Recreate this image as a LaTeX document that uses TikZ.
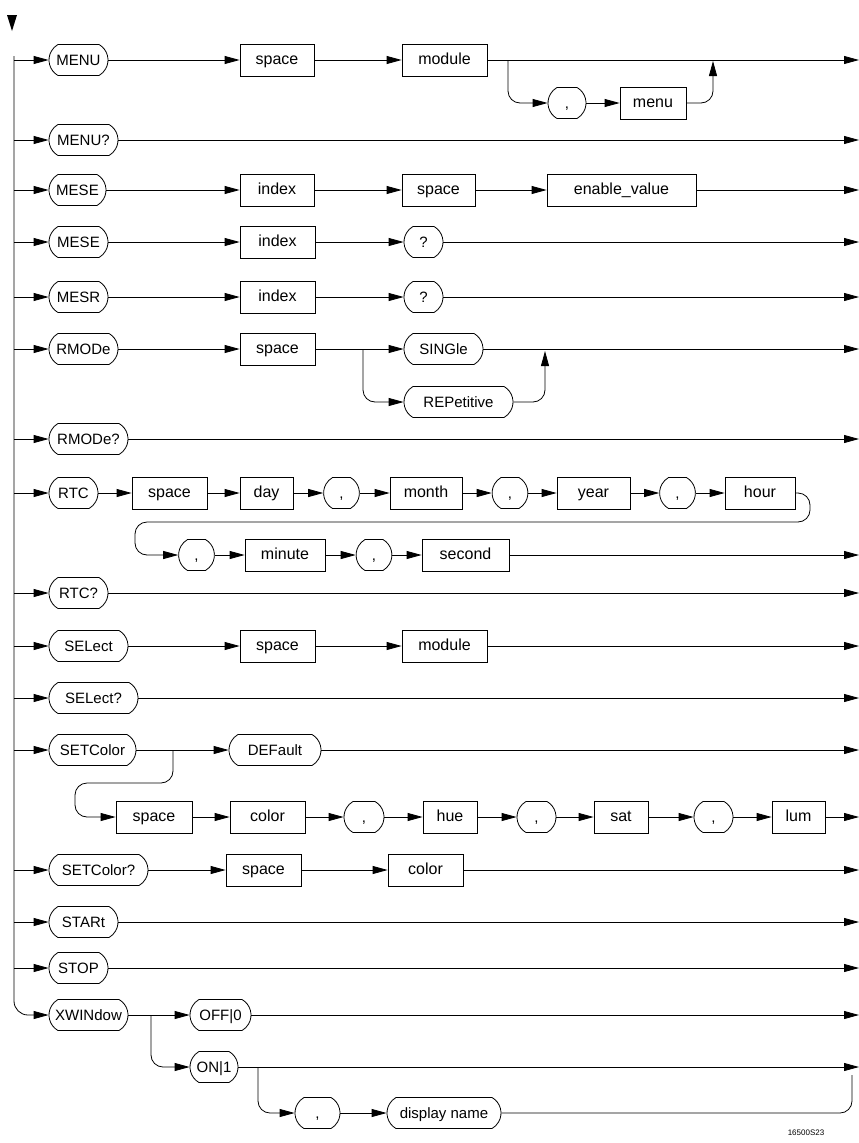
\documentclass[tikz,border=0pt]{standalone}
\usepackage{fontspec}
\setmainfont{Liberation Sans}
\usetikzlibrary{arrows.meta,shapes.misc}

\tikzset{every picture/.style={line width=0.8pt}}
\tikzset{
  kw/.style={draw,rounded rectangle,rounded rectangle arc length=120,minimum height=31,inner xsep=2pt,text height=10pt,text depth=0pt,font=\fontsize{15}{18}\selectfont},
  prm/.style={draw,rectangle,minimum height=32,inner xsep=3pt,text height=9pt,text depth=0pt,font=\fontsize{16}{19}\selectfont},
  figno/.style={font=\fontsize{8}{10}\selectfont}
}

\begin{document}
\begin{tikzpicture}[x=1pt,y=1pt,yscale=-1,xscale=1,>={Triangle[length=15pt,width=8pt]}]
		\useasboundingbox (0,0) rectangle (859,1143);
		\coordinate (spine) at (14,0);
		\coordinate (exit) at (859,0);
		
		%Start mark
		\fill (7,15) -- (17,15) -- (12,31) -- cycle;
		
		% MENU
		\draw (78.5,60) node [kw,minimum width=63] (menu) {MENU};
		\draw (277,60) node [prm,minimum width=74] (menusp) {space};
		\draw (444.5,60) node [prm,minimum width=85] (menumod) {module};
		\draw (567,103) node [kw,minimum width=42] (menucm) {,};
		\draw (653,103) node [prm,minimum width=66] (menumenu) {menu};
		\coordinate (menub) at (508,60);
		\coordinate (menuj) at (713,61);
		% MENU?
		\draw (83.5,140) node [kw,minimum width=73] (menuq) {MENU?};
		% MESE
		\draw (77.5,190) node [kw,minimum width=61] (mese) {MESE};
		\draw (277,190) node [prm,minimum width=74] (meseidx) {index};
		\draw (438.5,190) node [prm,minimum width=73] (mesesp) {space};
		\draw (621.5,190) node [prm,minimum width=149] (meseval) {enable\_value};
		% MESE query
		\draw (78.5,242) node [kw,minimum width=63] (meseb) {MESE};
		\draw (277.5,242) node [prm,minimum width=75] (mesebidx) {index};
		\draw (423.5,242) node [kw,minimum width=43] (mesebq) {?};
		% MESR
		\draw (78.5,297) node [kw,minimum width=63] (mesr) {MESR};
		\draw (277.5,297) node [prm,minimum width=75] (mesridx) {index};
		\draw (423.5,297) node [kw,minimum width=43] (mesrq) {?};
		% RMODe
		\draw (83.5,349) node [kw,minimum width=73] (rmode) {RMODe};
		\draw (277.5,349) node [prm,minimum width=75] (rmodesp) {space};
		\draw (443.5,349) node [kw,minimum width=83] (rmodesing) {SINGle};
		\draw (458.5,402) node [kw,minimum width=113] (rmoderep) {REPetitive};
		\coordinate (rmodeb) at (363,349);
		\coordinate (rmodej) at (545,351);
		% RMODe?
		\draw (88.5,439) node [kw,minimum width=83] (rmodeq) {RMODe?};
		% RTC
		\draw (73.5,493) node [kw,minimum width=53] (rtc) {RTC};
		\draw (169.5,493) node [prm,minimum width=75] (rtcsp) {space};
		\draw (266.5,493) node [prm,minimum width=53] (rtcday) {day};
		\draw (341.5,493) node [kw,minimum width=32] (rtccma) {,};
		\draw (426,493) node [prm,minimum width=72] (rtcmon) {month};
		\draw (510,493) node [kw,minimum width=34] (rtccmb) {,};
		\draw (593.5,493) node [prm,minimum width=73] (rtcyear) {year};
		\draw (677.5,493) node [kw,minimum width=35] (rtccmc) {,};
		\draw (760,493) node [prm,minimum width=70] (rtchour) {hour};
		\draw (196.5,555) node [kw,minimum width=32] (rtccmd) {,};
		\draw (285,555) node [prm,minimum width=80] (rtcmin) {minute};
		\draw (374,555) node [kw,minimum width=32] (rtccme) {,};
		\draw (465.5,555) node [prm,minimum width=87] (rtcsec) {second};
		\coordinate (rtcwa) at (810,522);
		\coordinate (rtcwb) at (135,555);
		% RTC?
		\draw (78.5,593) node [kw,minimum width=63] (rtcq) {RTC?};
		% SELect
		\draw (88.5,646) node [kw,minimum width=83] (sel) {SELect};
		\draw (277.5,646) node [prm,minimum width=75] (selsp) {space};
		\draw (444.5,646) node [prm,minimum width=85] (selmod) {module};
		% SELect?
		\draw (93.5,698) node [kw,minimum width=93] (selq) {SELect?};
		% SETColor
		\draw (92.5,750) node [kw,minimum width=91] (setc) {SETColor};
		\draw (275,750) node [kw,minimum width=96] (setcdef) {DEFault};
		\draw (154,817) node [prm,minimum width=76] (setcsp) {space};
		\draw (267.5,817) node [prm,minimum width=75] (setccol) {color};
		\draw (364,817) node [kw,minimum width=44] (setccma) {,};
		\draw (450,817) node [prm,minimum width=54] (setchue) {hue};
		\draw (536.5,817) node [kw,minimum width=43] (setccmb) {,};
		\draw (621,817) node [prm,minimum width=54] (setcsat) {sat};
		\draw (713.5,817) node [kw,minimum width=43] (setccmc) {,};
		\draw (798.5,817) node [prm,minimum width=53] (setclum) {lum};
		\coordinate (setcb) at (173,750);
		\coordinate (setcw) at (75,783);
		% SETColor?
		\draw (98.5,870) node [kw,minimum width=103] (setcq) {SETColor?};
		\draw (263.5,870) node [prm,minimum width=75] (setcqsp) {space};
		\draw (425.5,870) node [prm,minimum width=75] (setcqcol) {color};
		% STARt, STOP
		\draw (83.5,922) node [kw,minimum width=73] (start) {STARt};
		\draw (78.5,968) node [kw,minimum width=63] (stop) {STOP};
		% XWINdow
		\draw (88.5,1015) node [kw,minimum width=83] (xwin) {XWINdow};
		\draw (220.5,1015) node [kw,minimum width=65] (xwinoff) {OFF|0};
		\draw (214,1067) node [kw,minimum width=52] (xwinon) {ON|1};
		\draw (317.5,1113) node [kw,minimum width=49] (xwincm) {,};
		\draw (444,1113) node [kw,minimum width=118] (xwindisp) {display name};
		\coordinate (xwinb) at (151,1015);
		\coordinate (xwinc) at (258,1067);
		\coordinate (xwinj) at (852,1075);
		
		% Text Node
		\draw (806,1133) node [figno] (figid) {16500S23};
		
		%Spine and entries
		\draw [->,rounded corners=14] (14,56) -- (14,1015) -- (xwin.west);
		\foreach \n in {menu,menuq,mese,meseb,mesr,rmode,rmodeq,rtc,rtcq,sel,selq,setc,setcq,start,stop}
			\draw [->] (spine |- \n.west) -- (\n.west);
		
		%Straight Lines
		\foreach \a/\b in {menu/menusp,menusp/menumod,menucm/menumenu,
			mese/meseidx,meseidx/mesesp,mesesp/meseval,
			meseb/mesebidx,mesebidx/mesebq,mesr/mesridx,mesridx/mesrq,
			rmode/rmodesp,rmodesp/rmodesing,
			rtc/rtcsp,rtcsp/rtcday,rtcday/rtccma,rtccma/rtcmon,rtcmon/rtccmb,rtccmb/rtcyear,rtcyear/rtccmc,rtccmc/rtchour,
			rtccmd/rtcmin,rtcmin/rtccme,rtccme/rtcsec,
			sel/selsp,selsp/selmod,
			setc/setcdef,setcsp/setccol,setccol/setccma,setccma/setchue,setchue/setccmb,setccmb/setcsat,setcsat/setccmc,setccmc/setclum,
			setcq/setcqsp,setcqsp/setcqcol,
			xwin/xwinoff,xwincm/xwindisp}
			\draw [->] (\a.east) -- (\b.west);
		
		%Exits
		\foreach \n in {menumod,menuq,meseval,mesebq,mesrq,rmodesing,rmodeq,rtcsec,rtcq,selmod,selq,setcdef,setclum,setcqcol,start,stop,xwinoff,xwinon}
			\draw [->] (\n.east) -- (\n.east -| exit);
		
		%Branches
		\draw [->,rounded corners=12] (menub) |- (menucm.west);
		\draw [->,rounded corners=12] (menumenu.east) -| (menuj);
		\draw [->,rounded corners=12] (rmodeb) |- (rmoderep.west);
		\draw [->,rounded corners=12] (rmoderep.east) -| (rmodej);
		\draw [->,rounded corners=12] (rtchour.east) -| (rtcwa) -| (rtcwb) -- (rtccmd.west);
		\draw [->,rounded corners=12] (setcb) |- (setcw) |- (setcsp.west);
		\draw [->,rounded corners=12] (xwinb) |- (xwinon.west);
		\draw [->,rounded corners=12] (xwinc) |- (xwincm.west);
		\draw [rounded corners=12] (xwindisp.east) -| (xwinj);
		
	\end{tikzpicture}
\end{document}
